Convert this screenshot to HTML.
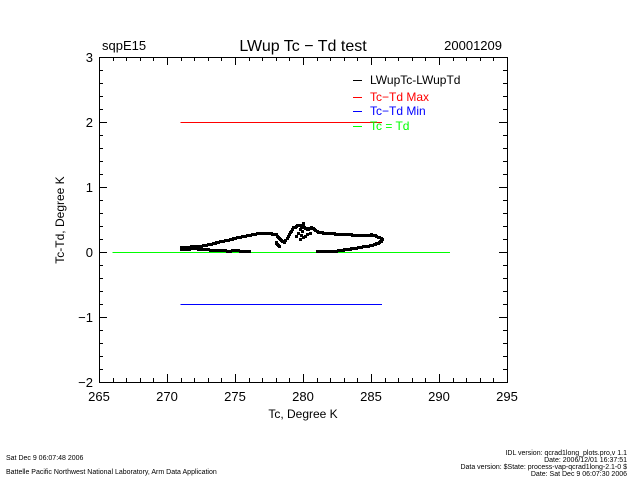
<!DOCTYPE html>
<html><head><meta charset="utf-8"><style>
body{margin:0;background:#fff;}
svg text{font-family:"Liberation Sans",sans-serif;}
</style></head><body>
<svg id="chart" width="640" height="480" xmlns="http://www.w3.org/2000/svg" shape-rendering="crispEdges">
<rect width="640" height="480" fill="#fff"/>
<g id="marks"></g>
<g id="axes"></g>
<text x="102" y="50" font-size="13">sqpE15</text>
<text x="303" y="51" font-size="16" text-anchor="middle">LWup Tc − Td test</text>
<text x="502" y="50" font-size="13" text-anchor="end">20001209</text>
<text x="303" y="418" font-size="12" text-anchor="middle">Tc, Degree K</text>
<text transform="translate(64,220) rotate(-90)" font-size="12" text-anchor="middle">Tc-Td, Degree K</text>
<g font-size="12">
<line x1="353" y1="80.5" x2="362" y2="80.5" stroke="#000"/>
<text x="370" y="84" fill="#000">LWupTc-LWupTd</text>
<line x1="353" y1="97.5" x2="362" y2="97.5" stroke="#f00"/>
<text x="370" y="101" fill="#f00">Tc−Td Max</text>
<line x1="353" y1="111.5" x2="362" y2="111.5" stroke="#00f"/>
<text x="370" y="115" fill="#00f">Tc−Td Min</text>
<line x1="353" y1="126.5" x2="362" y2="126.5" stroke="#0f0"/>
<text x="370" y="130" fill="#0f0">Tc = Td</text>
</g>
<g font-size="7">
<text x="6" y="460">Sat Dec  9 06:07:48 2006</text>
<text x="6" y="474">Battelle Pacific Northwest National Laboratory, Arm Data Application</text>
<text x="627" y="455" text-anchor="end">IDL version: qcrad1long_plots.pro,v 1.1</text>
<text x="627" y="462" text-anchor="end">Date: 2006/12/01 16:37:51</text>
<text x="627" y="469" text-anchor="end">Data version: $State: process-vap-qcrad1long-2.1-0 $</text>
<text x="627" y="476" text-anchor="end">Date: Sat Dec  9 06:07:30 2006</text>
</g>
</svg>
<script>
const xTicks=[265,270,275,280,285,290,295];
const yTicks=[-2,-1,0,1,2,3];
const maxLine=[271,285.8,2.0];
const minLine=[271,285.8,-0.8];
const eqLine=[266,290.8,0];
const ptX=[271,271.5,272,272.5,273,273.5,274,274.5,275,275.5,276,276.5,277,277.5,278,278.3,278.6,279,279.3,279.6,280,280.3,280.6,281,281.5,282,282.5,283,283.5,284,284.5,285,285.4,285.8,285.6,285.2,284.8,284.3,283.8,283.3,282.8,282.3,281.8,281.3,281,271,271.5,272,272.5,273,273.5,274,274.5,275,275.5,276,278,278.2,279.5,280,279.8,280.5];
const ptY=[0.07,0.08,0.09,0.1,0.12,0.14,0.17,0.19,0.22,0.24,0.26,0.28,0.3,0.29,0.27,0.2,0.15,0.28,0.38,0.42,0.4,0.35,0.38,0.32,0.3,0.29,0.28,0.28,0.27,0.26,0.26,0.27,0.25,0.2,0.15,0.12,0.1,0.08,0.06,0.05,0.03,0.02,0.02,0.01,0.01,0.04,0.05,0.06,0.04,0.04,0.03,0.03,0.02,0.03,0.02,0.02,0.15,0.1,0.25,0.45,0.2,0.3];
const NS="http://www.w3.org/2000/svg";
const L=99,R=507,T=57,B=382;
const xs=v=>L+(v-265)/(295-265)*(R-L);
const ys=v=>B-(v+2)/5*(B-T);
const ax=document.getElementById('axes'),mk=document.getElementById('marks');
function mkEl(t,a,p){const e=document.createElementNS(NS,t);for(const k in a)e.setAttribute(k,a[k]);p.appendChild(e);return e;}
const fr=mkEl('rect',{x:L+0.5,y:T+0.5,width:R-L,height:B-T,fill:'none',stroke:'#000'},ax);


for(let v=265;v<=295;v+=1){const big=v%5===0;const h=big?8:4;const x=Math.round(xs(v))+0.5;
mkEl('line',{x1:x,y1:B,x2:x,y2:B-h,stroke:'#000'},ax);mkEl('line',{x1:x,y1:T,x2:x,y2:T+h,stroke:'#000'},ax);}
for(let i=0;i<=25;i++){const v=-2+i*0.2;const big=i%5===0;const h=big?8:4;const y=Math.round(ys(v))+0.5;
mkEl('line',{x1:L,y1:y,x2:L+h,y2:y,stroke:'#000'},ax);mkEl('line',{x1:R,y1:y,x2:R-h,y2:y,stroke:'#000'},ax);}
xTicks.forEach(v=>{const t=mkEl('text',{x:xs(v),y:B+19,'font-size':13,'text-anchor':'middle'},ax);t.textContent=v;

});
yTicks.forEach(v=>{const t=mkEl('text',{x:L-6,y:ys(v)+5,'font-size':13,'text-anchor':'end'},ax);t.textContent=v<0?'−'+(-v):v;

});
function hl(a,c,n){const y=Math.round(ys(a[2]))+0.5;const e=mkEl('line',{x1:xs(a[0]),x2:xs(a[1]),y1:y,y2:y,stroke:c},mk);

}
hl(eqLine,'#0f0','tc-eq-td-line');
hl(maxLine,'#f00','max-line');
hl(minLine,'#00f','min-line');
for(let i=0;i<ptX.length;i++){
const j=i<ptX.length-1?i+1:i;
const near=Math.abs(ptX[j]-ptX[i])<1.2?1:0;
const steps=4;
for(let s=0;s<steps;s++){
const f=s/steps*near;
const x=Math.round(xs(ptX[i]+(ptX[j]-ptX[i])*f));
const y=Math.round(ys(ptY[i]+(ptY[j]-ptY[i])*f));
const r=mkEl('rect',{x:x-1,y:y-1,width:3,height:3,fill:'#000'},mk);

}
}
</script>
</body></html>
